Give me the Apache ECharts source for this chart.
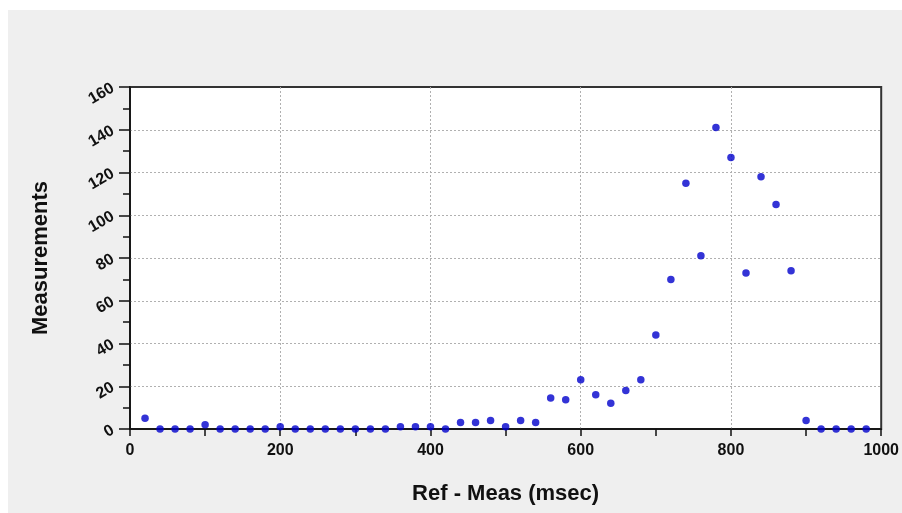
<!DOCTYPE html>
<html>
<head>
<meta charset="utf-8">
<script src="https://cdn.jsdelivr.net/npm/echarts@6/dist/echarts.min.js"></script>
<style>html,body{margin:0;padding:0;background:#fff;}#c{width:902px;height:513px;}</style>
</head>
<body>
<div id="c"></div>
<script>
const xValues = [20,40,60,80,100,120,140,160,180,200,220,240,260,280,300,320,340,360,380,400,420,440,460,480,500,520,540,560,580,600,620,640,660,680,700,720,740,760,780,800,820,840,860,880,900,920,940,960,980];
const measurements = [5,0,0,0,2,0,0,0,0,1,0,0,0,0,0,0,0,1,1,1,0,3,3,4,1,4,3,14.5,13.7,23,16,12,18,23,44,70,115,81,141,127,73,118,105,74,4,0,0,0,0];
const xTitle = 'Ref - Meas (msec)';
const yTitle = 'Measurements';

const chart = echarts.init(document.getElementById('c'), null, {renderer: 'canvas'});
const font = '"Liberation Sans", Arial, sans-serif';
chart.setOption({
  animation: false,
  backgroundColor: '#ffffff',
  graphic: [{
    type: 'rect', left: 8, top: 10, z: -100,
    shape: {width: 894, height: 503},
    style: {fill: '#efefef'}
  }],
  grid: {
    left: 130, right: 19, top: 87, bottom: 84,
    show: true, backgroundColor: '#ffffff', borderColor: '#333333', borderWidth: 2,
    containLabel: false
  },
  xAxis: {
    type: 'value', min: 0, max: 1000, interval: 200,
    name: xTitle, nameLocation: 'middle', nameGap: 54,
    nameTextStyle: {fontFamily: font, fontSize: 22, fontWeight: 'bold', color: '#111'},
    axisLine: {show: true, onZero: false, lineStyle: {color: '#111', width: 1.5}},
    axisTick: {show: true, length: 7, lineStyle: {color: '#111', width: 1.5}},
    minorTick: {show: true, splitNumber: 2, length: 7, lineStyle: {color: '#111', width: 1.5}},
    axisLabel: {fontFamily: font, fontSize: 16, fontWeight: 'bold', color: '#111', margin: 14,
      formatter: v => String(v)},
    splitLine: {show: true, showMinLine: false, showMaxLine: false, lineStyle: {color: '#b0b0b0', type: [2, 2], width: 1}}
  },
  yAxis: {
    type: 'value', min: 0, max: 160, interval: 20,
    name: yTitle, nameLocation: 'middle', nameGap: 78, nameRotate: 90,
    nameTextStyle: {fontFamily: font, fontSize: 22, fontWeight: 'bold', color: '#111'},
    axisLine: {show: true, onZero: false, lineStyle: {color: '#111', width: 1.5}},
    axisTick: {show: true, length: 11, lineStyle: {color: '#111', width: 1.5}},
    minorTick: {show: true, splitNumber: 2, length: 7, lineStyle: {color: '#111', width: 1.5}},
    axisLabel: {fontFamily: font, fontSize: 16, fontWeight: 'bold', color: '#111', rotate: 30, margin: 17},
    splitLine: {show: true, showMinLine: false, showMaxLine: false, lineStyle: {color: '#b0b0b0', type: [2, 2], width: 1}}
  },
  series: [{
    type: 'scatter',
    data: xValues.map((x, i) => [x, measurements[i]]),
    symbol: 'circle', symbolSize: 7.5,
    itemStyle: {color: '#0000cc'},
    clip: false
  }]
});
</script>
</body>
</html>
